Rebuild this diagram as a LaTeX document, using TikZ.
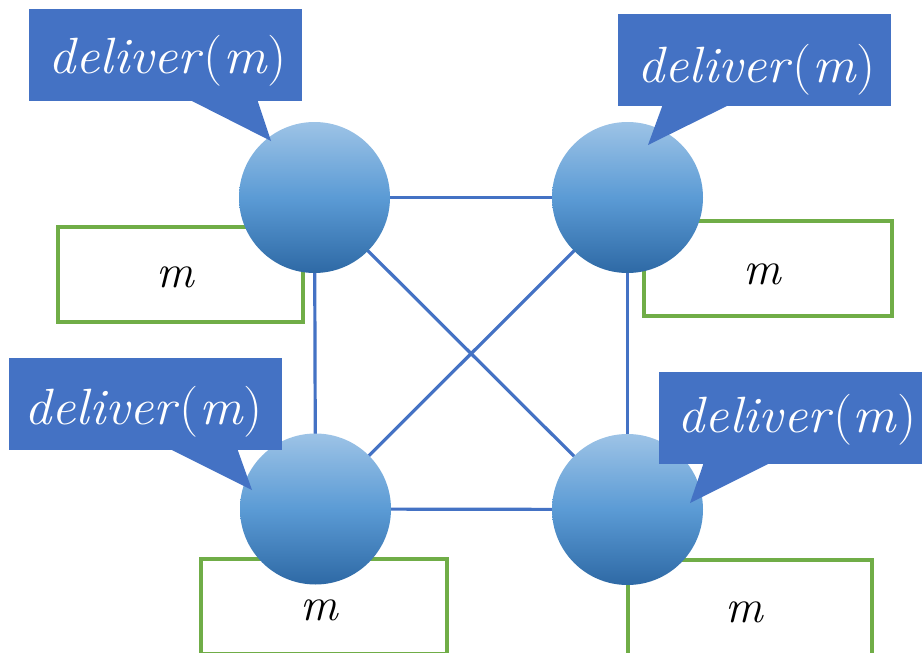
\documentclass[tikz,border=0pt]{standalone}
\usepackage{graphicx}
\definecolor{cblue}{HTML}{4472C4}
\definecolor{cgreen}{HTML}{70AD47}
\definecolor{ntop}{RGB}{157,195,230}
\definecolor{nmid}{RGB}{91,155,213}
\definecolor{nbot}{RGB}{46,105,165}
\newcommand{\dlv}{\scalebox{1.06}[1]{\textit{deliver}(\textit{m})}}
\begin{document}
\begin{tikzpicture}[x=1pt,y=-1pt,
  proc/.style={circle,minimum size=151pt,inner sep=0pt,top color=ntop,bottom color=nbot,middle color=nmid},
  link/.style={draw=cblue,line width=3.2pt},
  msgbox/.style={draw=cgreen,line width=4pt,fill=white,minimum width=#1,minimum height=95pt,inner sep=0pt},
  msgtext/.style={inner sep=0pt,font=\fontsize{47}{50}\selectfont\itshape},
  callrect/.style={fill=cblue,minimum width=273pt,minimum height=92pt,inner sep=0pt},
  calltext/.style={inner sep=0pt,text=white,font=\fontsize{51}{54}\selectfont},
  pointer/.style={fill=cblue}
]
\useasboundingbox (0,0) rectangle (922,653);
\clip (0,0) rectangle (922,653);
% message boxes
\node[msgbox=245pt] (b1) at (180.5,274.5) {};
\node[msgtext] (m1) at (175,277.5) {m};
\node[msgbox=248pt] (b2) at (768,268.5) {};
\node[msgtext] (m2) at (762.5,274.5) {m};
\node[msgbox=246pt] (b3) at (324,606.5) {};
\node[msgtext] (m3) at (319,610.5) {m};
\node[msgbox=244pt] (b4) at (750,607.5) {};
\node[msgtext] (m4) at (744,612) {m};
% process nodes
\coordinate (p1) at (314.5,197.5);
\coordinate (p2) at (627.5,197.5);
\coordinate (p3) at (315.5,509);
\coordinate (p4) at (627.5,509.5);
\draw[link] (p1) -- (p2);
\draw[link] (p3) -- (p4);
\draw[link] (p1) -- (p3);
\draw[link] (p2) -- (p4);
\draw[link] (p1) -- (p4);
\draw[link] (p2) -- (p3);
\node[proc] (n1) at (p1) {};
\node[proc] (n2) at (p2) {};
\node[proc] (n3) at (p3) {};
\node[proc] (n4) at (p4) {};
% callouts
\node[callrect] (c1) at (165.5,55) {};
\fill[pointer] (188,99) -- (271,141) -- (257,99) -- cycle;
\node[calltext] (d1) at (167.5,60.5) {\dlv};
\node[callrect] (c2) at (754,59.5) {};
\fill[pointer] (663,104) -- (648,145) -- (731,104) -- cycle;
\node[calltext] (d2) at (756.5,70) {\dlv};
\node[callrect] (c3) at (145.5,404) {};
\fill[pointer] (168,448) -- (252,490) -- (237,448) -- cycle;
\node[calltext] (d3) at (143.5,411.5) {\dlv};
\node[callrect] (c4) at (795.5,418) {};
\fill[pointer] (704,462) -- (690,503) -- (772,462) -- cycle;
\node[calltext] (d4) at (797,420) {\dlv};
\end{tikzpicture}
\end{document}
